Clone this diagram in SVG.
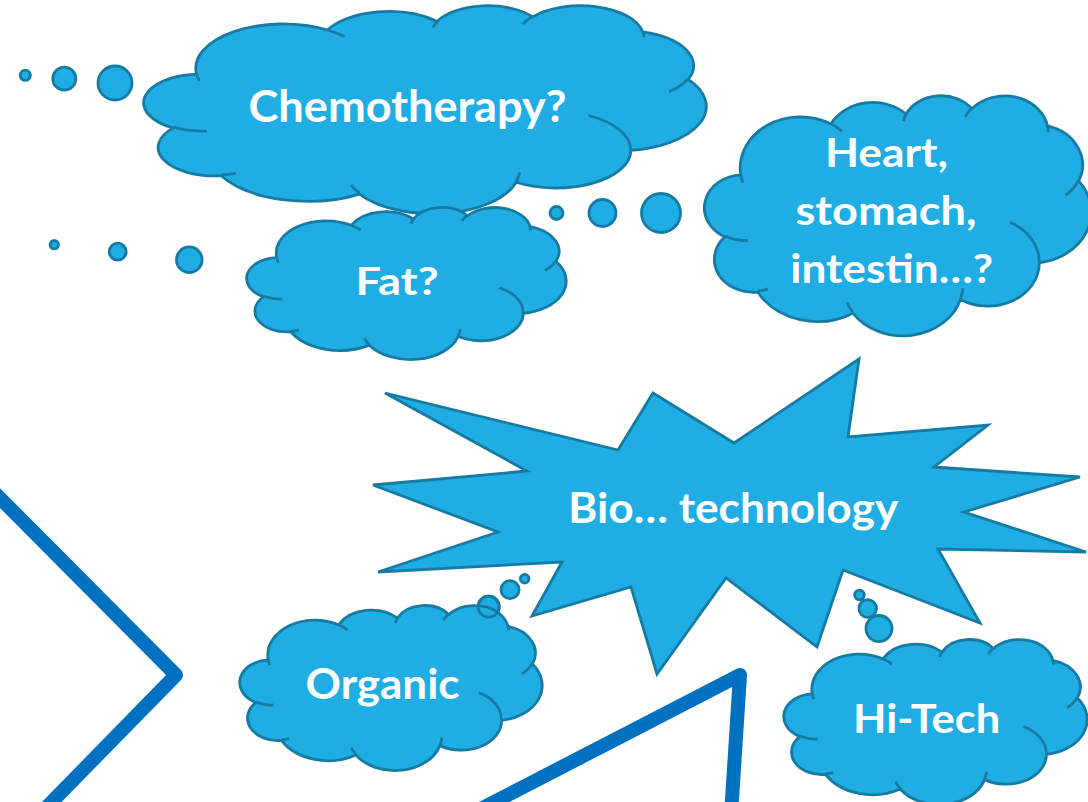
<svg xmlns="http://www.w3.org/2000/svg" xmlns:xlink="http://www.w3.org/1999/xlink" width="1088" height="802" viewBox="0 0 1088 802">
  <style>
    .cloud { fill: #1FADE3; stroke: #167BA3; stroke-width: 2.8; stroke-linejoin: round; }
    .puff { fill: none; stroke: #167BA3; stroke-width: 2.8; stroke-linecap: butt; }
    .bubble { fill: #1FADE3; stroke: #167BA3; stroke-width: 2.8; }
    .ring { fill: none; stroke: #167BA3; stroke-width: 2.8; }
    .star { fill: #1FADE3; stroke: #167BA3; stroke-width: 2.8; stroke-linejoin: miter; }
    .rule { fill: none; stroke: #0070C0; stroke-width: 14; stroke-linejoin: round; }
    .label { font-family: "Lato", "Liberation Sans", sans-serif; font-weight: bold; fill: #FFFFFF; text-anchor: middle; }
  </style>
  <defs>
    <!-- cloud outline in a 100 x 100 box -->
    <path id="cloud-outline" vector-effect="non-scaling-stroke" d="M 9.03 33.26 A 15.63 21.27 0 0 1 32.42 12.04 A 12.35 16.82 0 0 1 51.98 7.94 A 10.10 13.76 0 0 1 69.06 5.75 A 11.24 15.27 0 0 1 88.70 12.91 A 12.35 16.84 0 0 1 96.81 35.79 A 15.68 21.34 0 0 1 86.59 69.92 A 13.39 18.21 0 0 1 66.10 85.22 A 15.63 21.33 0 0 1 38.15 90.89 A 17.87 24.41 0 0 1 13.43 82.10 A 10.09 13.70 0 0 1 4.89 59.13 A 10.06 13.76 0 0 1 9.03 33.26 Z"/>
    <!-- inner lobe strokes of the cloud -->
    <path id="cloud-puffs" vector-effect="non-scaling-stroke" d="M 10.86 60.59 A 10.06 13.76 0 0 1 5.00 58.75 M 16.04 80.78 A 10.09 13.70 0 0 1 13.47 81.67 M 38.14 90.49 A 15.63 21.33 0 0 1 36.60 86.47 M 66.73 80.44 A 15.63 21.33 0 0 1 66.11 84.86 M 79.00 53.13 A 13.39 18.21 0 0 1 86.53 69.65 M 96.75 35.54 A 12.35 16.84 0 0 1 93.40 41.74 M 88.71 12.56 A 11.24 15.27 0 0 1 88.89 15.49 M 67.31 9.15 A 11.24 15.27 0 0 1 69.03 5.41 M 51.25 10.93 A 10.10 13.76 0 0 1 52.08 7.71 M 32.41 12.02 A 15.63 21.27 0 0 1 35.42 15.15 M 9.55 36.55 A 15.63 21.27 0 0 1 9.03 33.27"/>
  </defs>

  <!-- thick blue chevrons -->
  <g id="connectors">
    <polyline class="rule" points="-20,478 176,675 39,815"/>
    <polyline class="rule" points="469,815 740,675 731,815"/>
  </g>

  <g id="chemotherapy">
    <circle class="bubble" cx="25.3" cy="75.3" r="5.1"/>
    <circle class="bubble" cx="64.3" cy="78.7" r="11.5"/>
    <circle class="bubble" cx="115" cy="83" r="17"/>
    <g transform="translate(146 5) scale(5.6 2.08)">
      <use xlink:href="#cloud-outline" class="cloud"/>
      <use xlink:href="#cloud-puffs" class="puff"/>
    </g>
    <text class="label" x="407.5" y="121.7" font-size="43" textLength="318" lengthAdjust="spacingAndGlyphs">Chemotherapy?</text>
  </g>

  <g id="fat">
    <circle class="bubble" cx="54.3" cy="244.7" r="4.2"/>
    <circle class="bubble" cx="117.7" cy="251.7" r="8.5"/>
    <circle class="bubble" cx="189.3" cy="259.7" r="12.8"/>
    <g transform="translate(248 207) scale(3.18 1.52)">
      <use xlink:href="#cloud-outline" class="cloud"/>
      <use xlink:href="#cloud-puffs" class="puff"/>
    </g>
    <text class="label" x="397" y="295" font-size="38" textLength="83" lengthAdjust="spacingAndGlyphs">Fat?</text>
  </g>

  <g id="organs">
    <circle class="bubble" cx="556.5" cy="213" r="6.5"/>
    <circle class="bubble" cx="602.5" cy="213" r="13.5"/>
    <circle class="bubble" cx="661" cy="213" r="19.5"/>
    <g transform="translate(706 95) scale(3.85 2.40)">
      <use xlink:href="#cloud-outline" class="cloud"/>
      <use xlink:href="#cloud-puffs" class="puff"/>
    </g>
    <text class="label" font-size="39.5">
      <tspan x="891.2" y="166.7" textLength="123" lengthAdjust="spacingAndGlyphs">Heart,</tspan>
      <tspan x="890.8" y="225" textLength="181" lengthAdjust="spacingAndGlyphs">stomach,</tspan>
      <tspan x="891.7" y="283.3" textLength="203" lengthAdjust="spacingAndGlyphs">intestin…?</tspan>
    </text>
  </g>

  <g id="biotechnology">
    <polygon class="star" points="373,485 527,471 385,393 618,450 653,393 734,443 859,359 848,437 988,425 934,467 1080,477 964,512 1086,552 938,549 980,623 843,570 817,647 726,578 657,674 631,587 532,616 562,562 378,572 498,532"/>
    <text class="label" x="733.3" y="522.7" font-size="42" textLength="330" lengthAdjust="spacingAndGlyphs">Bio… technology</text>
  </g>

  <g id="organic">
    <circle class="bubble" cx="488.7" cy="606.7" r="10.5"/>
    <circle class="bubble" cx="510" cy="589.7" r="9"/>
    <circle class="bubble" cx="524.7" cy="578.7" r="4.3"/>
    <g transform="translate(241 605) scale(3.01 1.65)">
      <use xlink:href="#cloud-outline" class="cloud"/>
      <use xlink:href="#cloud-puffs" class="puff"/>
    </g>
    <circle class="ring" cx="488.7" cy="606.7" r="10.5"/>
    <text class="label" x="382.5" y="699" font-size="42" textLength="154" lengthAdjust="spacingAndGlyphs">Organic</text>
  </g>

  <g id="hitech">
    <circle class="bubble" cx="859.5" cy="595" r="4.8"/>
    <circle class="bubble" cx="867.7" cy="608.5" r="8.8"/>
    <circle class="bubble" cx="879" cy="628.5" r="13"/>
    <g transform="translate(785 639) scale(3.02 1.65)">
      <use xlink:href="#cloud-outline" class="cloud"/>
      <use xlink:href="#cloud-puffs" class="puff"/>
    </g>
    <text class="label" x="926.6" y="732.7" font-size="41" textLength="147" lengthAdjust="spacingAndGlyphs">Hi-Tech</text>
  </g>
</svg>
